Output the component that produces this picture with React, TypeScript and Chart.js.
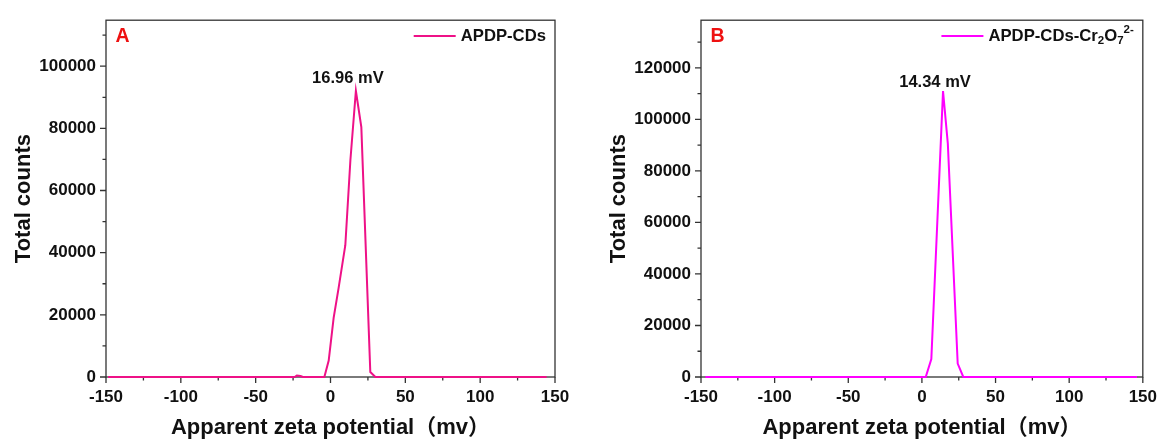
import React, { useEffect, useRef } from "react";
import { Chart, registerables } from "chart.js";

Chart.register(...registerables);

// Zeta potential distribution, APDP-CDs (panel A)
const potentialA = [-148.6, -24, -22.5, -20, -18.5, -4.1, -1.2, 2.1, 5.4, 9.9, 13.3, 16.96, 20.6, 26.6, 30.0, 144.4];
const countsA = [0, 0, 450, 300, 0, 0, 5300, 19000, 28600, 42400, 69800, 92100, 80400, 1600, 0, 0];

// Zeta potential distribution, APDP-CDs with Cr2O7 2- (panel B)
const potentialB = [-147, 2.6, 6.4, 14.34, 17.6, 24.3, 28.1, 146];
const countsB = [0, 0, 7000, 111000, 90600, 5200, 0, 0];

const xTicks = [-150, -100, -50, 0, 50, 100, 150];
const xMinorTicks = [-125, -75, -25, 25, 75, 125];
const yTicksA = [0, 20000, 40000, 60000, 80000, 100000];
const yMinorTicksA = [10000, 30000, 50000, 70000, 90000, 110000];
const yTicksB = [0, 20000, 40000, 60000, 80000, 100000, 120000];
const yMinorTicksB = [10000, 30000, 50000, 70000, 90000, 110000, 130000];

const peakLabelA = "16.96 mV";
const peakLabelB = "14.34 mV";

const FONT = "'Liberation Sans', Arial, 'Noto Sans CJK SC', sans-serif";
const AXIS_COLOR = "#333333";

type Seg = { t: string; kind?: "sub" | "sup" };

type PanelCfg = {
  letter: string;
  color: string;
  xs: number[];
  ys: number[];
  yMax: number;
  yTicks: number[];
  yMinor: number[];
  peakIndex: number;
  peakLabel: string;
  peakOffsetY: number;
  legend: Seg[];
  width: number;
  axisWidth: number;
  padRight: number;
  yTitlePad: number;
};

function drawRich(ctx: CanvasRenderingContext2D, segs: Seg[], x: number, y: number, measureOnly: boolean): number {
  let cx = x;
  for (const s of segs) {
    const size = s.kind ? 11.5 : 16.7;
    ctx.font = `bold ${size}px ${FONT}`;
    const dy = s.kind === "sub" ? 5 : s.kind === "sup" ? -6 : 0;
    if (!measureOnly) ctx.fillText(s.t, cx, y + dy);
    cx += ctx.measureText(s.t).width;
  }
  return cx - x;
}

function makeDecor(cfg: PanelCfg) {
  return {
    id: "decor",
    beforeDatasetsDraw(chart: any) {
      const { ctx, chartArea: a } = chart;
      const xs = chart.scales.x;
      const ys = chart.scales.y;
      ctx.save();
      ctx.strokeStyle = AXIS_COLOR;
      ctx.lineWidth = 1.3;
      ctx.strokeRect(a.left, a.top, a.right - a.left, a.bottom - a.top);
      ctx.beginPath();
      for (const v of xTicks) {
        const px = xs.getPixelForValue(v);
        ctx.moveTo(px, a.bottom);
        ctx.lineTo(px, a.bottom + 6);
      }
      for (const v of xMinorTicks) {
        const px = xs.getPixelForValue(v);
        ctx.moveTo(px, a.bottom);
        ctx.lineTo(px, a.bottom + 3.5);
      }
      for (const v of cfg.yTicks) {
        const py = ys.getPixelForValue(v);
        ctx.moveTo(a.left, py);
        ctx.lineTo(a.left - 6, py);
      }
      for (const v of cfg.yMinor) {
        if (v > cfg.yMax) continue;
        const py = ys.getPixelForValue(v);
        ctx.moveTo(a.left, py);
        ctx.lineTo(a.left - 3.5, py);
      }
      ctx.stroke();
      ctx.restore();
    },
    afterDatasetsDraw(chart: any) {
      const { ctx, chartArea: a } = chart;
      const xs = chart.scales.x;
      const ys = chart.scales.y;
      ctx.save();
      // panel letter
      ctx.fillStyle = "#ee1111";
      ctx.font = `bold 19.5px ${FONT}`;
      ctx.textAlign = "left";
      ctx.textBaseline = "middle";
      ctx.fillText(cfg.letter, a.left + 9.5, 37);

      // legend
      ctx.fillStyle = "#111111";
      const tw = drawRich(ctx, cfg.legend, 0, 0, true);
      const textLeft = a.right - 9 - tw;
      const ly = 36;
      drawRich(ctx, cfg.legend, textLeft, ly, false);
      ctx.strokeStyle = cfg.color;
      ctx.lineWidth = 2;
      ctx.beginPath();
      ctx.moveTo(textLeft - 47, ly);
      ctx.lineTo(textLeft - 5, ly);
      ctx.stroke();

      // peak annotation
      const px = xs.getPixelForValue(cfg.xs[cfg.peakIndex]);
      const py = ys.getPixelForValue(cfg.ys[cfg.peakIndex]);
      ctx.font = `bold 16.5px ${FONT}`;
      ctx.textAlign = "center";
      ctx.fillStyle = "#111111";
      ctx.fillText(cfg.peakLabel, px - 8, py + cfg.peakOffsetY);
      ctx.restore();
    },
  };
}

function Panel({ cfg }: { cfg: PanelCfg }) {
  const ref = useRef<HTMLCanvasElement | null>(null);
  useEffect(() => {
    if (!ref.current) return;
    const points = cfg.xs.map((x, i) => ({ x, y: cfg.ys[i] }));
    const tickFont = { family: FONT, size: 17, weight: "bold" as const };
    const titleFont = { family: FONT, size: 22, weight: "bold" as const };
    const chart = new Chart(ref.current, {
      type: "line",
      data: {
        datasets: [
          {
            data: points,
            borderColor: cfg.color,
            borderWidth: 2,
            pointRadius: 0,
            tension: 0,
            fill: false,
            clip: false as any,
          },
        ],
      },
      options: {
        responsive: false,
        animation: false,
        layout: { padding: { left: 0, top: 15, right: cfg.padRight, bottom: 0 } },
        plugins: { legend: { display: false }, tooltip: { enabled: false } },
        scales: {
          x: {
            type: "linear",
            min: -150,
            max: 150,
            grid: { display: false, drawTicks: false },
            border: { display: false },
            afterBuildTicks: (s: any) => {
              s.ticks = xTicks.map((v) => ({ value: v }));
            },
            afterFit: (s: any) => {
              s.height = 66;
            },
            ticks: {
              font: tickFont,
              color: "#111111",
              padding: 10,
              maxRotation: 0,
              autoSkip: false,
              callback: (v: any) => String(v),
            },
            title: {
              display: true,
              text: "Apparent zeta potential（mv）",
              font: titleFont,
              color: "#111111",
              padding: { top: 0, bottom: 2 },
            },
          },
          y: {
            type: "linear",
            min: 0,
            max: cfg.yMax,
            grid: { display: false, drawTicks: false },
            border: { display: false },
            afterBuildTicks: (s: any) => {
              s.ticks = cfg.yTicks.map((v) => ({ value: v }));
            },
            afterFit: (s: any) => {
              s.width = cfg.axisWidth;
            },
            ticks: {
              font: tickFont,
              color: "#111111",
              padding: 10,
              autoSkip: false,
              callback: (v: any) => String(v),
            },
            title: {
              display: true,
              text: "Total counts",
              font: titleFont,
              color: "#111111",
              padding: { top: cfg.yTitlePad, bottom: 0 },
            },
          },
        },
      },
      plugins: [makeDecor(cfg)],
    });
    return () => chart.destroy();
  }, [cfg]);
  return <canvas ref={ref} width={cfg.width} height={443} style={{ display: "block", width: cfg.width, height: 443 }} />;
}

const panelA: PanelCfg = {
  letter: "A",
  color: "#ee1187",
  xs: potentialA,
  ys: countsA,
  yMax: 114800,
  yTicks: yTicksA,
  yMinor: yMinorTicksA,
  peakIndex: 11,
  peakLabel: peakLabelA,
  peakOffsetY: -12,
  legend: [{ t: "APDP-CDs" }],
  width: 590,
  axisWidth: 106,
  padRight: 35,
  yTitlePad: 10.8,
};

const panelB: PanelCfg = {
  letter: "B",
  color: "#ff00ff",
  xs: potentialB,
  ys: countsB,
  yMax: 138500,
  yTicks: yTicksB,
  yMinor: yMinorTicksB,
  peakIndex: 3,
  peakLabel: peakLabelB,
  peakOffsetY: -9,
  legend: [{ t: "APDP-CDs-Cr" }, { t: "2", kind: "sub" }, { t: "O" }, { t: "7", kind: "sub" }, { t: "2-", kind: "sup" }],
  width: 577,
  axisWidth: 111,
  padRight: 19,
  yTitlePad: 15.8,
};

export default function App() {
  return (
    <div style={{ position: "fixed", left: 0, top: 0, width: 1167, height: 443, display: "flex", background: "#ffffff" }}>
      <Panel cfg={panelA} />
      <Panel cfg={panelB} />
    </div>
  );
}
